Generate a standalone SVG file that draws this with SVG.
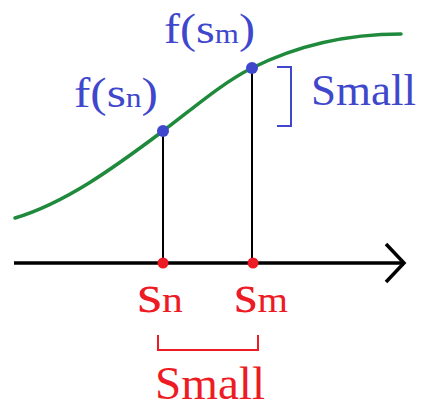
<svg xmlns="http://www.w3.org/2000/svg" width="424" height="404" viewBox="0 0 424 404">
<style>
  .blue { fill: #3f48cc; }
  .red { fill: #ed1c24; }
  .lbl { font-family: "Liberation Serif", "Times New Roman", serif; }
  .stem { stroke: #000; stroke-width: 2; fill: none; }
  .axis { stroke: #000; stroke-width: 3.5; fill: none; }
  .curve { stroke: #1f8a3c; stroke-width: 3.5; fill: none; stroke-linecap: round; }
  .bbr { stroke: #3f48cc; stroke-width: 2; fill: none; }
  .rbr { stroke: #ed1c24; stroke-width: 2; fill: none; }
</style>
<g id="connectors">
  <path class="curve" d="M15,218 C65,203 113,168.5 163,131 C193,108.5 222,83 252,68 C302,43 350,34 401,34"/>
  <line class="stem" x1="163" y1="131" x2="163" y2="263"/>
  <line class="stem" x1="252" y1="68" x2="252" y2="263"/>
  <line class="axis" x1="14" y1="263" x2="403" y2="263"/>
  <polyline class="axis" points="386,244 404,263 386,282"/>
</g>
<g id="node-fsn">
  <circle class="blue" cx="163" cy="131" r="6"/>
  <text class="lbl blue" x="74" y="107" font-size="42" textLength="84" lengthAdjust="spacingAndGlyphs">f(s<tspan font-size="27">n</tspan>)</text>
</g>
<g id="node-fsm">
  <circle class="blue" cx="252" cy="68" r="6"/>
  <text class="lbl blue" x="164" y="43" font-size="42" textLength="91" lengthAdjust="spacingAndGlyphs">f(s<tspan font-size="27">m</tspan>)</text>
</g>
<g id="node-small-blue">
  <path class="bbr" d="M277,67 H291 V126 H277"/>
  <text class="lbl blue" x="311" y="105" font-size="44" textLength="105" lengthAdjust="spacingAndGlyphs">Small</text>
</g>
<g id="node-sn">
  <circle class="red" cx="163" cy="263" r="5.5"/>
  <text class="lbl red" x="137" y="312" font-size="54" textLength="46" lengthAdjust="spacingAndGlyphs">s<tspan font-size="35">n</tspan></text>
</g>
<g id="node-sm">
  <circle class="red" cx="253" cy="263" r="5.5"/>
  <text class="lbl red" x="234" y="312" font-size="54" textLength="54" lengthAdjust="spacingAndGlyphs">s<tspan font-size="35">m</tspan></text>
</g>
<g id="node-small-red">
  <path class="rbr" d="M158,335 V350 H258 V335"/>
  <text class="lbl red" x="155" y="399" font-size="46" textLength="110" lengthAdjust="spacingAndGlyphs">Small</text>
</g>
</svg>
